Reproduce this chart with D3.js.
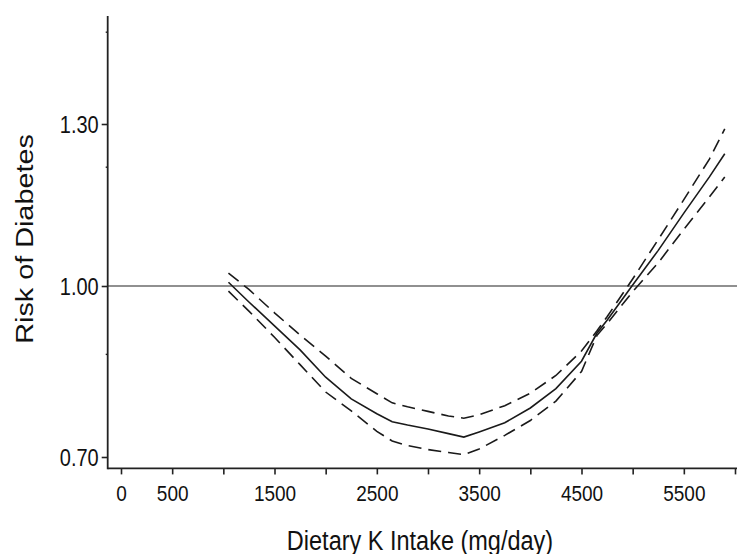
<!DOCTYPE html>
<html>
<head>
<meta charset="utf-8">
<script src="https://cdnjs.cloudflare.com/ajax/libs/d3/7.8.5/d3.min.js"></script>
<style>
  body { margin: 0; background: #fff; }
  text { font-family: "Liberation Sans", Arial, sans-serif; fill: #111; }
</style>
</head>
<body>
<div class="chart"></div>
<script>
// potassium intake (mg/day)
let intake = [1050, 1250, 1500, 1750, 2000, 2250, 2500, 2650, 2800, 3000, 3200, 3350,
              3500, 3750, 4000, 4250, 4500, 4650, 4750, 5000, 5250, 5500, 5750, 5900];
// risk estimate and confidence limits
let riskMid = [1.007, 0.972, 0.930, 0.888, 0.840, 0.802, 0.776, 0.762, 0.756, 0.749, 0.741, 0.735,
               0.744, 0.760, 0.786, 0.820, 0.868, 0.917, 0.940, 1.002, 1.066, 1.135, 1.202, 1.245];
let riskUpper = [1.024, 0.994, 0.953, 0.914, 0.877, 0.838, 0.811, 0.795, 0.788, 0.780, 0.772, 0.768,
                 0.774, 0.790, 0.812, 0.843, 0.886, 0.921, 0.946, 1.013, 1.086, 1.160, 1.235, 1.291];
let riskLower = [0.991, 0.956, 0.910, 0.862, 0.814, 0.781, 0.745, 0.728, 0.720, 0.713, 0.708, 0.704,
                 0.714, 0.738, 0.764, 0.798, 0.850, 0.913, 0.934, 0.990, 1.043, 1.105, 1.165, 1.202];

let xTicks = d3.range(0, 6001, 500);
let xLabels = [0, 500, 1500, 2500, 3500, 4500, 5500];
let yTicks = [0.70, 1.00, 1.30];
let yMinorTicks = [0.88, 1.22, 1.47];

let svgWidth = 737;
let svgHeight = 554;

let svg = d3.select(".chart")
  .append("svg")
  .attr("width", svgWidth)
  .attr("height", svgHeight);

let x = d3.scaleLinear().domain([0, 6000]).range([121, 735]);
// the printed y axis is not evenly spaced, so use a piecewise scale
let y = d3.scaleLinear().domain([0.70, 1.00, 1.30]).range([457, 286, 124]);

let xLeft = -130, xRight = 6020;
let yTop = 1.5, yBottom = 0.68;
let axisY = y(yBottom);
let axisX = x(xLeft);

// reference line at 1.00
svg.append("line")
  .attr("x1", axisX).attr("x2", x(xRight))
  .attr("y1", y(1)).attr("y2", y(1))
  .attr("stroke", "#222")
  .attr("stroke-width", 1.2);

// x axis
let bottomAxis = d3.axisBottom(x)
  .tickValues(xTicks)
  .tickSize(6)
  .tickFormat(d => xLabels.includes(d) ? d : "");

let gx = svg.append("g")
  .attr("transform", `translate(0, ${axisY})`)
  .call(bottomAxis);
gx.select(".domain").remove();
gx.selectAll("line").attr("stroke", "#222").attr("stroke-width", 1.6);
gx.selectAll("text")
  .attr("y", 0).attr("dy", 0)
  .attr("transform", "translate(0, 33) scale(1, 1.18)")
  .style("font-size", "19px")
  .style("font-family", "Liberation Sans, Arial, sans-serif")
  .attr("fill", "#111");

svg.append("line")
  .attr("x1", axisX).attr("x2", x(xRight))
  .attr("y1", axisY).attr("y2", axisY)
  .attr("stroke", "#222")
  .attr("stroke-width", 1.8);

// y axis
let leftAxis = d3.axisLeft(y)
  .tickValues(yTicks)
  .tickSize(6)
  .tickFormat(d3.format(".2f"));

let gy = svg.append("g")
  .attr("transform", `translate(${axisX}, 0)`)
  .call(leftAxis);
gy.select(".domain").remove();
gy.selectAll("line").attr("stroke", "#222").attr("stroke-width", 1.6);
gy.selectAll("text")
  .attr("x", 0).attr("dy", 0)
  .attr("transform", "translate(-9, 8) scale(1, 1.18)")
  .style("font-size", "20px")
  .style("font-family", "Liberation Sans, Arial, sans-serif")
  .attr("fill", "#111");

svg.selectAll(".minor")
  .data(yMinorTicks)
  .enter().append("line")
  .attr("class", "minor")
  .attr("x1", axisX - 2).attr("x2", axisX)
  .attr("y1", d => y(d)).attr("y2", d => y(d))
  .attr("stroke", "#222")
  .attr("stroke-width", 1.4);

svg.append("line")
  .attr("x1", axisX).attr("x2", axisX)
  .attr("y1", y(yTop)).attr("y2", axisY + 0.9)
  .attr("stroke", "#222")
  .attr("stroke-width", 1.8);

// curves
let series = [
  { values: riskUpper, dash: "13,7" },
  { values: riskMid, dash: null },
  { values: riskLower, dash: "13,7" }
];

let line = d3.line()
  .x(d => x(d[0]))
  .y(d => y(d[1]));

series.forEach(function(s) {
  svg.append("path")
    .datum(intake.map((v, i) => [v, s.values[i]]))
    .attr("d", line)
    .attr("fill", "none")
    .attr("stroke", "#1a1a1a")
    .attr("stroke-width", 1.6)
    .attr("stroke-dasharray", s.dash);
});

// axis titles
svg.append("text")
  .attr("transform", "translate(420, 550) scale(1, 1.18)")
  .style("text-anchor", "middle")
  .style("font-size", "23.5px")
  .text("Dietary K Intake (mg/day)");

svg.append("text")
  .attr("transform", "translate(33, 239) scale(1, 1.2) rotate(-90)")
  .style("text-anchor", "middle")
  .style("font-size", "24px")
  .text("Risk of Diabetes");
</script>
</body>
</html>
